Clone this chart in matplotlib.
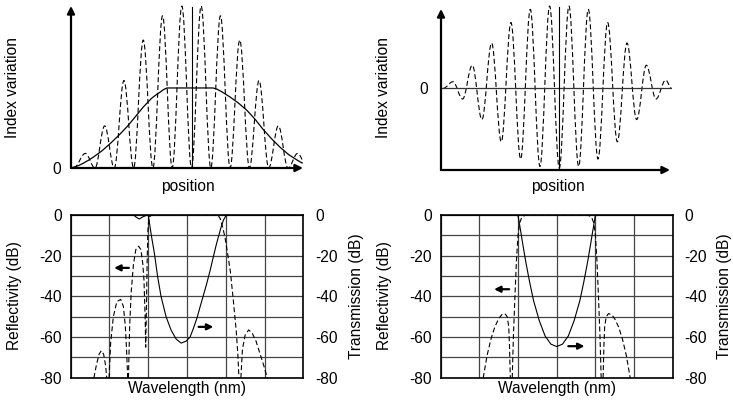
import numpy as np
import matplotlib
matplotlib.use("Agg")
import matplotlib.pyplot as plt
from matplotlib.path import Path
from matplotlib.patches import PathPatch

plt.rcParams["font.family"] = ["Liberation Sans", "DejaVu Sans"]
plt.rcParams["axes.unicode_minus"] = False
plt.rcParams["lines.dashed_pattern"] = (4.5, 2.5)
FS = 11.2

# ---------------------------
# DATA: top-left, positive-only index modulation (units: half periods)
# ---------------------------
tl_trough_pos = [-6.1, -5, -4, -3, -2, -1, 0, 1, 2, 3, 4, 5, 6]
tl_peak_pos = [-5.5, -4.5, -3.5, -2.5, -1.5, -0.5, 0.5, 1.5, 2.5, 3.5, 4.5, 5.5]
tl_peak_val = [0.09, 0.26, 0.54, 0.79, 0.94, 1.0, 1.0, 0.94, 0.79, 0.54, 0.26, 0.09]

tl_env_x = [-6.24, -6.14, -5.85, -5.6, -5.35, -5.1, -4.65, -4.22, -3.78, -3.34, -2.92, -2.51,
            -2.07, -1.8, -1.63, -1.45, -1.27, 1.11, 1.3, 1.55, 2.0, 2.44, 2.88, 3.3,
            3.7, 4.15, 4.59, 5.03, 5.47, 5.73]
tl_env_y = [0.0, 0.004, 0.015, 0.03, 0.047, 0.066, 0.105, 0.15, 0.2, 0.255, 0.315, 0.375,
            0.43, 0.455, 0.468, 0.484, 0.494, 0.494, 0.488, 0.472, 0.438, 0.4, 0.355, 0.3,
            0.24, 0.18, 0.128, 0.083, 0.049, 0.031]

# ---------------------------
# DATA: top-right, zero-mean index modulation (units: quarter periods)
# ---------------------------
tr_ext_pos = [-12, -11, -10, -9, -8, -7, -6, -5, -4, -3, -2, -1, 0,
              1, 2, 3, 4, 5, 6, 7, 8, 9, 10, 11, 11.6]
tr_ext_val = [0.0, 0.08, -0.13, 0.28, -0.38, 0.55, -0.65, 0.80, -0.86, 0.96, -0.95, 1.0, -0.97,
              1.0, -0.95, 0.96, -0.86, 0.80, -0.65, 0.55, -0.38, 0.28, -0.13, 0.10, 0.0]

# ---------------------------
# DATA: bottom-left spectra (x in grid columns, dB)
# ---------------------------
bl_T_x = [0, 1.62, 1.70, 1.77, 1.85, 1.95, 2.0, 2.04, 2.08, 2.16, 2.24, 2.33, 2.46, 2.59,
          2.72, 2.85, 2.98, 3.08, 3.17, 3.26, 3.34, 3.43, 3.51, 3.60, 3.68, 3.75, 3.81,
          3.88, 3.94, 4.0, 4.07, 6.0]
bl_T_y = [0, 0, -1.2, -2.0, -1.0, -0.2, 0, -5, -10, -19, -30, -40, -50, -56.6,
          -61, -63, -62, -60, -55.5, -50.5, -45, -39, -33.6, -27, -20.5, -15, -10.7,
          -6, -2.5, -0.5, 0, 0]

bl_R_x = [0.55, 0.60, 0.66, 0.73, 0.79, 0.85, 0.90, 0.93, 0.96,
          0.99, 1.03, 1.10, 1.19, 1.29, 1.36, 1.41, 1.44, 1.47, 1.48,
          1.49, 1.52, 1.56, 1.62, 1.68, 1.75, 1.81, 1.86, 1.89, 1.92, 1.935,
          1.95, 1.97, 1.99, 2.02, 2.1, 3.8, 3.86, 3.92, 3.98, 4.04, 4.12, 4.20, 4.27,
          4.31, 4.34, 4.36,
          4.39, 4.43, 4.50, 4.59, 4.68, 4.78, 4.88, 4.98, 5.07, 5.10]
bl_R_y = [-100, -80, -74, -68.5, -66.7, -68.5, -74, -80, -100,
          -80, -63, -50, -42.6, -41.5, -45, -55, -66, -80, -100,
          -80, -55, -38, -24, -17, -15.3, -17, -24, -32, -50, -65,
          -50, -25, -8, -1, 0, 0, -2, -6, -11, -18, -28, -43, -57,
          -68, -80, -100,
          -80, -66, -59, -56.5, -58, -62, -68, -74, -80, -100]

# ---------------------------
# DATA: bottom-right spectra
# ---------------------------
br_T_x = [0, 1.97, 2.0, 2.02, 2.06, 2.12, 2.2, 2.3, 2.4, 2.55, 2.7, 2.85, 3.0,
          3.15, 3.3, 3.45, 3.6, 3.7, 3.8, 3.88, 3.94, 3.98, 4.0, 6.0]
br_T_y = [0, 0, -0.5, -2.5, -7, -14, -23, -33, -42, -52, -59.5, -63.5, -64.7,
          -63.5, -59.5, -52, -42, -33, -23, -14, -7, -2.5, 0, 0]

br_R_x = [1.05, 1.10, 1.20, 1.30, 1.40, 1.50, 1.58, 1.66, 1.72, 1.76, 1.78, 1.80, 1.82,
          1.85, 1.88, 1.92, 1.96, 2.0, 2.04, 2.10, 2.2, 3.8, 3.9, 3.96, 4.0, 4.04,
          4.08, 4.12, 4.15, 4.18, 4.20, 4.22, 4.24, 4.28, 4.34, 4.42, 4.50, 4.60,
          4.70, 4.80, 4.90, 4.95]
br_R_y = [-100, -80, -69, -61, -55, -51, -49, -48.5, -50, -55, -65, -80, -100,
          -80, -60, -40, -22, -10, -4, -1, 0, 0, -1, -4, -10, -22,
          -40, -60, -80, -100, -80, -65, -55, -50, -48.5, -49, -51, -55,
          -61, -69, -80, -100]

W, H = 733, 408
fig = plt.figure(figsize=(W / 100, H / 100), dpi=100)


def px_rect(l, t, r, b):
    return [l / W, 1 - b / H, (r - l) / W, (b - t) / H]


def smooth_path(xs, ys, k=0.3642):
    # cubic segments with flat tangents at every extremum (cosine-like lobes)
    verts = [(xs[0], ys[0])]
    codes = [Path.MOVETO]
    for i in range(len(xs) - 1):
        x0, y0, x1, y1 = xs[i], ys[i], xs[i + 1], ys[i + 1]
        d = x1 - x0
        verts += [(x0 + k * d, y0), (x1 - k * d, y1), (x1, y1)]
        codes += [Path.CURVE4] * 3
    return Path(verts, codes)


def arrow(ax, start, end, coords="data", lw=1.6, ms=11):
    ax.annotate("", xy=end, xytext=start, xycoords=coords, textcoords=coords,
                arrowprops=dict(arrowstyle="-|>", color="black", lw=lw,
                                mutation_scale=ms, shrinkA=0, shrinkB=0),
                annotation_clip=False)


def bare(ax):
    for s in ax.spines.values():
        s.set_visible(False)
    ax.set_xticks([])
    ax.tick_params(length=0, labelsize=FS)


# ---------------------------
# TOP LEFT
# ---------------------------
ax1 = fig.add_axes(px_rect(71, 5, 303, 168))
ax1.set_xlim((71 - 191.5) / 19.3, (303 - 191.5) / 19.3)
ax1.set_ylim(0, 163 / 162)
bare(ax1)
ax1.set_yticks([0])
ax1.set_yticklabels(["0"])
ax1.tick_params(axis="y", pad=7)

lob_x, lob_y = [], []
for i, p in enumerate(tl_peak_pos):
    lob_x += [tl_trough_pos[i], p]
    lob_y += [0, tl_peak_val[i]]
lob_x.append(tl_trough_pos[-1])
lob_y.append(0)
ax1.add_patch(PathPatch(smooth_path(lob_x, lob_y), fill=False, ls="--", lw=0.8, ec="black"))
ax1.plot(tl_env_x, tl_env_y, color="black", lw=0.9)
ax1.plot([0, 0], [0, 0.994], color="black", lw=0.8)
arrow(ax1, (0, 0), (0, 0.994), coords="axes fraction")
arrow(ax1, (0, 0), (1, 0), coords="axes fraction")
fig.text(13 / W, 1 - 87 / H, "Index variation", rotation=90, ha="center", va="center", fontsize=FS)
fig.text(188 / W, 1 - 187 / H, "position", ha="center", va="center", fontsize=FS)

# ---------------------------
# TOP RIGHT
# ---------------------------
ax2 = fig.add_axes(px_rect(441, 5, 672, 170))
ax2.set_xlim((441 - 559.3) / 9.67, (672 - 559.3) / 9.67)
ax2.set_ylim((88.3 - 170) / 82.3, (88.3 - 5) / 82.3)
bare(ax2)
ax2.set_yticks([0])
ax2.set_yticklabels(["0"])
ax2.tick_params(axis="y", pad=9)
ax2.add_patch(PathPatch(smooth_path(tr_ext_pos, tr_ext_val), fill=False, ls="--", lw=0.8,
                        ec="black", clip_on=False))
ax2.axhline(0, color="#333333", lw=0.9)
ax2.plot([0, 0], [(88.3 - 170) / 82.3, 0.99], color="black", lw=0.8)
arrow(ax2, (0, 0), (0, (170 - 9) / 165), coords="axes fraction")
arrow(ax2, (0, 0), ((670 - 441) / 231, 0), coords="axes fraction")
fig.text(383 / W, 1 - 87 / H, "Index variation", rotation=90, ha="center", va="center", fontsize=FS)
fig.text(558 / W, 1 - 187 / H, "position", ha="center", va="center", fontsize=FS)


# ---------------------------
# BOTTOM PANELS
# ---------------------------
def spectrum(rect, rx, ry, tx, ty, left_arrow, right_arrow, lab_l, lab_r, lab_c):
    ax = fig.add_axes(px_rect(*rect))
    ax.set_xlim(0, 6)
    ax.set_ylim(-80, 0)
    ax.set_xticks(np.arange(0, 7, 1))
    ax.set_xticklabels([])
    ax.set_yticks(np.arange(-80, 1, 20))
    ax.set_yticks(np.arange(-70, 0, 20), minor=True)
    ax.grid(which="both", color="#444444", lw=0.9)
    ax.set_axisbelow(True)
    ax.tick_params(which="both", length=0, labelsize=FS)
    ax.tick_params(axis="y", pad=6.5)
    for s in ax.spines.values():
        s.set_linewidth(1.2)
    ax.plot(rx, ry, color="black", lw=0.8, ls="--")

    axt = ax.twinx()
    axt.set_ylim(-80, 0)
    axt.set_yticks(np.arange(-80, 1, 20))
    axt.tick_params(length=0, labelsize=FS, pad=8.5)
    for s in axt.spines.values():
        s.set_visible(False)
    axt.plot(tx, ty, color="black", lw=0.8)

    arrow(ax, left_arrow[1], left_arrow[0], lw=1.6, ms=9)
    arrow(ax, right_arrow[0], right_arrow[1], lw=1.6, ms=9)

    fig.text(lab_l / W, 1 - 296 / H, "Reflectivity (dB)", rotation=90, ha="center", va="center", fontsize=FS)
    fig.text(lab_r / W, 1 - 296 / H, "Transmission (dB)", rotation=90, ha="center", va="center", fontsize=FS)
    fig.text(lab_c / W, 1 - 388 / H, "Wavelength (nm)", ha="center", va="center", fontsize=FS)


spectrum((70.7, 215, 303.3, 377.7), bl_R_x, bl_R_y, bl_T_x, bl_T_y,
         ((1.12, -26), (1.50, -26)), ((3.30, -55), (3.68, -55)), 15, 357, 187)
spectrum((440.7, 215, 672.7, 377.7), br_R_x, br_R_y, br_T_x, br_T_y,
         ((1.38, -36.5), (1.77, -36.5)), ((3.30, -64.5), (3.72, -64.5)), 385, 724, 557)

fig.savefig("out.png", dpi=100)
